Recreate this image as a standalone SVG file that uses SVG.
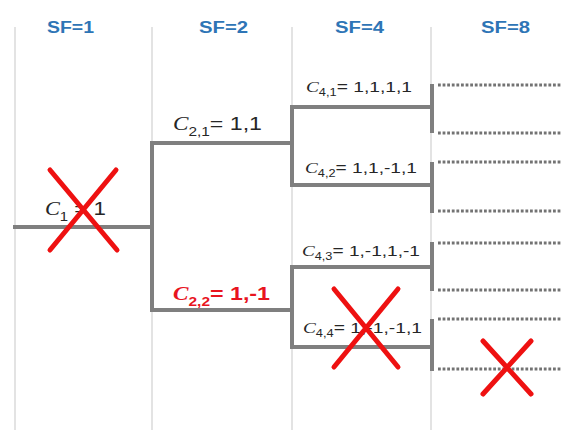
<svg xmlns="http://www.w3.org/2000/svg" width="562" height="430" viewBox="0 0 562 430">
<style>
.sep{stroke:#dcdcdc;stroke-width:1.6;fill:none}
.title{font-family:"Liberation Sans",Arial,sans-serif;font-weight:bold;font-size:16px;fill:#2e75b6}
.br{stroke:#7f7f7f;stroke-width:4;fill:none;stroke-linecap:square}
.dot{stroke:#737373;stroke-width:3;stroke-dasharray:2.8 1.8;fill:none}
.lbl{font-family:"Liberation Sans",Arial,sans-serif;fill:#262626}
.c{font-family:"Liberation Serif","Times New Roman",serif;font-style:italic}
.red{fill:#e8141e;font-weight:bold}
.x{stroke:#ee1111;stroke-width:5;stroke-linecap:round}
</style>
<rect width="562" height="430" fill="#ffffff"/>
<g id="grid">
<line class="sep" x1="15" y1="27" x2="15" y2="430"/>
<line class="sep" x1="152" y1="27" x2="152" y2="430"/>
<line class="sep" x1="292" y1="27" x2="292" y2="430"/>
<line class="sep" x1="431" y1="27" x2="431" y2="430"/>
</g>
<g id="titles">
<text class="title" x="47" y="33" textLength="47" lengthAdjust="spacingAndGlyphs">SF=1</text>
<text class="title" x="199" y="33" textLength="49" lengthAdjust="spacingAndGlyphs">SF=2</text>
<text class="title" x="335" y="33" textLength="49" lengthAdjust="spacingAndGlyphs">SF=4</text>
<text class="title" x="481" y="33" textLength="49" lengthAdjust="spacingAndGlyphs">SF=8</text>
</g>
<g id="connectors">
<path class="br" d="M15 227 H152"/>
<path class="br" d="M152 143 V310"/>
<path class="br" d="M152 143 H292 M152 310 H292"/>
<path class="br" d="M292 107 V185 M292 107 H431 M292 185 H431"/>
<path class="br" d="M292 267 V347 M292 267 H431 M292 347 H431"/>
<path class="br" d="M432 86 V131 M432 164 V211 M432 244 V289 M432 321 V369"/>
<path class="dot" d="M438 85 H562 M438 133 H562 M438 162 H562 M438 211 H562 M438 243 H562 M438 290 H562 M438 319 H562 M438 369 H562"/>
</g>
<g id="node-c1">
<text class="lbl" x="45" y="215" font-size="18" textLength="61" lengthAdjust="spacingAndGlyphs"><tspan class="c">C</tspan><tspan font-size="12" dy="6">1</tspan><tspan dy="-6"> = 1</tspan></text>
</g>
<g id="node-c21">
<text class="lbl" x="173" y="130" font-size="18" textLength="89" lengthAdjust="spacingAndGlyphs"><tspan class="c">C</tspan><tspan font-size="12" dy="6">2,1</tspan><tspan dy="-6">= 1,1</tspan></text>
</g>
<g id="node-c22">
<text class="lbl red" x="173" y="300" font-size="18" textLength="97" lengthAdjust="spacingAndGlyphs"><tspan class="c">C</tspan><tspan font-size="12" dy="6">2,2</tspan><tspan dy="-6">= 1,-1</tspan></text>
</g>
<g id="node-c41">
<text class="lbl" x="306" y="92" font-size="15" textLength="106" lengthAdjust="spacingAndGlyphs"><tspan class="c">C</tspan><tspan font-size="10" dy="4">4,1</tspan><tspan dy="-4">= 1,1,1,1</tspan></text>
</g>
<g id="node-c42">
<text class="lbl" x="305" y="173" font-size="15" textLength="112" lengthAdjust="spacingAndGlyphs"><tspan class="c">C</tspan><tspan font-size="10" dy="4">4,2</tspan><tspan dy="-4">= 1,1,-1,1</tspan></text>
</g>
<g id="node-c43">
<text class="lbl" x="302" y="256" font-size="15" textLength="118" lengthAdjust="spacingAndGlyphs"><tspan class="c">C</tspan><tspan font-size="10" dy="4">4,3</tspan><tspan dy="-4">= 1,-1,1,-1</tspan></text>
</g>
<g id="node-c44">
<text class="lbl" x="303" y="333" font-size="15" textLength="119" lengthAdjust="spacingAndGlyphs"><tspan class="c">C</tspan><tspan font-size="10" dy="4">4,4</tspan><tspan dy="-4">= 1,-1,-1,1</tspan></text>
</g>
<g id="crosses">
<path class="x" d="M50 170 L117 250 M116 170 L50 250"/>
<path class="x" d="M334 289 L398 367 M398 289 L334 367"/>
<path class="x" d="M483 341 L531 394 M531 341 L483 394"/>
</g>
</svg>
